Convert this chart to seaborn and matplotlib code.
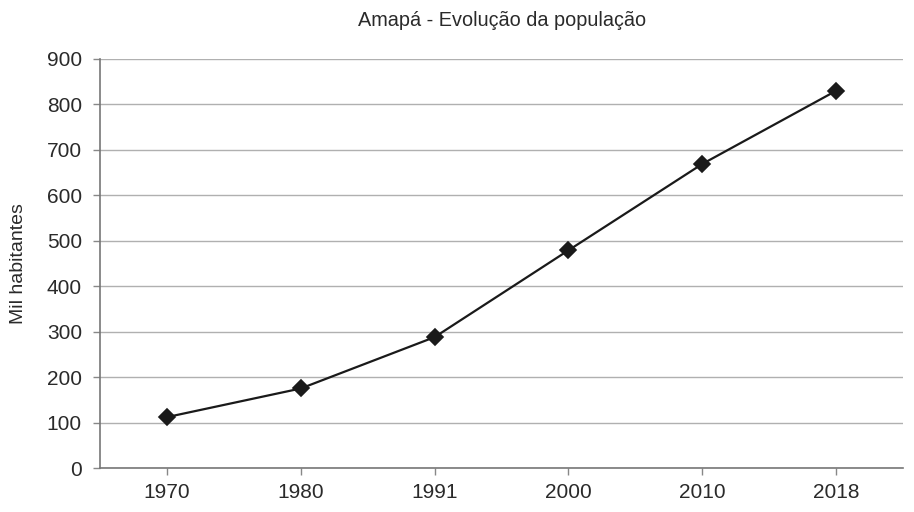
import matplotlib
matplotlib.use("Agg")
import matplotlib.pyplot as plt
import seaborn as sns
import pandas as pd

years = ["1970", "1980", "1991", "2000", "2010", "2018"]
population = [112, 175, 288, 479, 669, 830]
yticks = [0, 100, 200, 300, 400, 500, 600, 700, 800, 900]
title = "Amapá - Evolução da população"
ylabel = "Mil habitantes"

sns.set_theme(style="white")
plt.rcParams['font.family'] = ['Liberation Sans', 'DejaVu Sans']

df = pd.DataFrame({"ano": years, "pop": population})

fig = plt.figure(figsize=(9.14, 5.12), dpi=100)
ax = fig.add_axes([0.1094, 0.0859, 0.988 - 0.1094, 0.8848 - 0.0859])

sns.pointplot(data=df, x="ano", y="pop", color="#1a1a1a", markers="D",
              markersize=8, linewidth=1.6, ax=ax, zorder=3)

ax.set_ylim(0, 900)
ax.set_xlim(-0.5, len(years) - 0.5)
ax.set_yticks(yticks)
ax.set_yticklabels([str(v) for v in yticks])
ax.yaxis.grid(True, color="#b0b0b0", linewidth=1.0)
ax.xaxis.grid(False)
ax.set_axisbelow(True)

for s in ["top", "right"]:
    ax.spines[s].set_visible(False)
for s in ["left", "bottom"]:
    ax.spines[s].set_color("#777777")
    ax.spines[s].set_linewidth(1.2)

ax.tick_params(axis="both", which="both", length=5, width=1.0, color="#888888",
               labelsize=15, labelcolor="#2a2a2a", left=True, bottom=True)
ax.tick_params(axis="y", pad=8)
ax.tick_params(axis="x", pad=6)

ax.set_xlabel("")
ax.set_ylabel(ylabel, fontsize=14, color="#2a2a2a")
ax.yaxis.set_label_coords(-0.091, 0.5)
fig.text(0.549, 0.96, title, ha="center", va="center", fontsize=14.3, color="#2a2a2a")

fig.savefig("out.png", dpi=100, facecolor="white")
